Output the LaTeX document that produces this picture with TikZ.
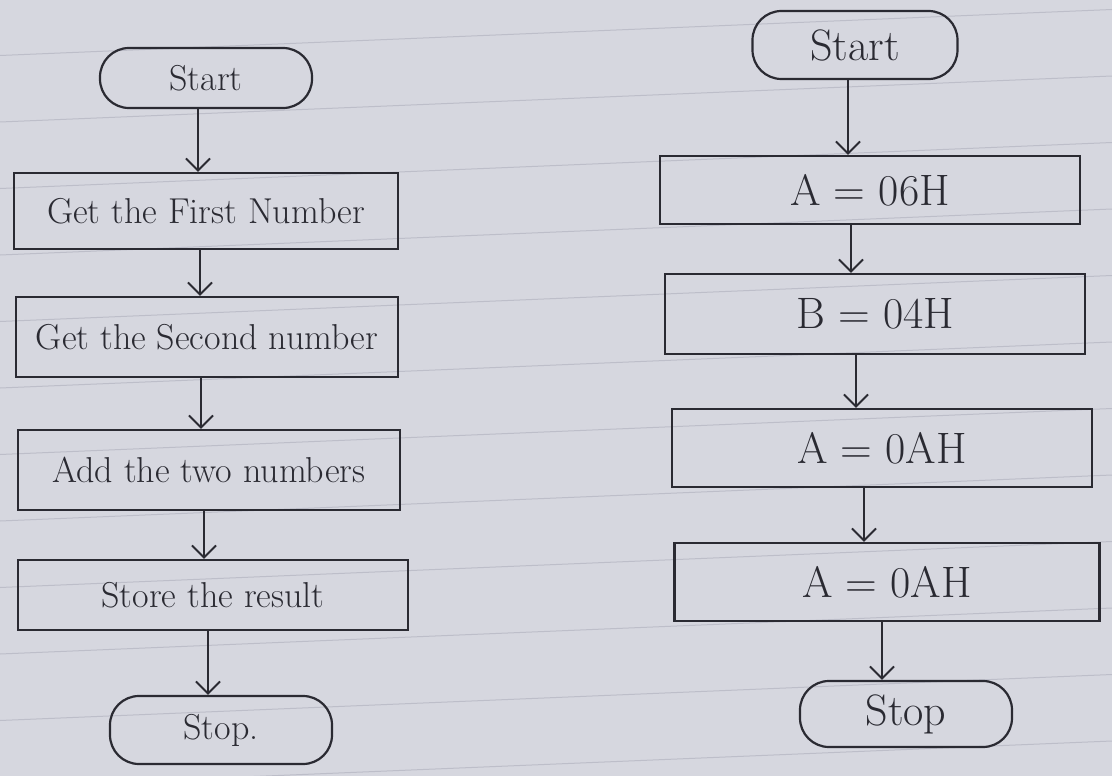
\documentclass[tikz,border=0pt]{standalone}
\usetikzlibrary{arrows.meta}
\definecolor{paper}{HTML}{D6D7DF}
\definecolor{ink}{HTML}{2A2A32}
\definecolor{rule}{HTML}{BDBEC9}
\begin{document}
\begin{tikzpicture}[x=1pt,y=-1pt,
  stepbox/.style={draw=ink,line width=2.2pt,rectangle,inner sep=0pt,text=ink},
  term/.style={stepbox,rounded corners=29pt},
  arr/.style={draw=ink,line width=2.2pt,-{Straight Barb[length=12pt,width=24pt,line width=2pt]}},
  lt/.style={font=\fontsize{36}{40}\selectfont},
  rt/.style={font=\fontsize{44}{48}\selectfont}]

% sheet of ruled paper
\fill[paper] (0,0) rectangle (1112,776);
\useasboundingbox (0,0) rectangle (1112,776);
\foreach \y in {-11,55.5,122,188.5,255,321.5,388,454.5,521,587.5,654,720.5,787,853.5}
  \draw[rule,line width=1pt] (0,\y) -- (1112,\y-46);

% left flowchart
\node[term,lt,minimum width=212pt,minimum height=60pt] (ls) at (206,78) {Start};
\node[stepbox,lt,minimum width=384pt,minimum height=76pt] (l1) at (206,211) {Get the First Number};
\node[stepbox,lt,minimum width=382pt,minimum height=80pt] (l2) at (207,337) {Get the Second number};
\node[stepbox,lt,minimum width=382pt,minimum height=80pt] (l3) at (209,470) {Add the two numbers};
\node[stepbox,lt,minimum width=390pt,minimum height=70pt] (l4) at (213,595) {Store the result};
\node[term,lt,minimum width=222pt,minimum height=68pt] (le) at (221,730) {Stop.};

\coordinate (la) at (198,0);
\coordinate (lb) at (200,0);
\coordinate (lc) at (201,0);
\coordinate (ld) at (204,0);
\coordinate (lf) at (208,0);
\draw[arr] (ls.south -| la) -- (l1.north -| la);
\draw[arr] (l1.south -| lb) -- (l2.north -| lb);
\draw[arr] (l2.south -| lc) -- (l3.north -| lc);
\draw[arr] (l3.south -| ld) -- (l4.north -| ld);
\draw[arr] (l4.south -| lf) -- (le.north -| lf);

% right flowchart
\node[term,rt,minimum width=205pt,minimum height=68pt] (rs) at (855,45) {Start};
\node[stepbox,rt,minimum width=420pt,minimum height=68pt] (r1) at (870,190) {A = 06H};
\node[stepbox,rt,minimum width=420pt,minimum height=80pt] (r2) at (875,314) {B = 04H};
\node[stepbox,rt,minimum width=420pt,minimum height=78pt] (r3) at (882,448) {A = 0AH};
\node[stepbox,rt,minimum width=425pt,minimum height=78pt] (r4) at (887,582) {A = 0AH};
\node[term,rt,minimum width=212pt,minimum height=66pt] (re) at (906,714) {Stop};

\coordinate (ra) at (848,0);
\coordinate (rb) at (851,0);
\coordinate (rc) at (856,0);
\coordinate (rd) at (864,0);
\coordinate (rf) at (882,0);
\draw[arr] (rs.south -| ra) -- (r1.north -| ra);
\draw[arr] (r1.south -| rb) -- (r2.north -| rb);
\draw[arr] (r2.south -| rc) -- (r3.north -| rc);
\draw[arr] (r3.south -| rd) -- (r4.north -| rd);
\draw[arr] (r4.south -| rf) -- (re.north -| rf);
\end{tikzpicture}
\end{document}
